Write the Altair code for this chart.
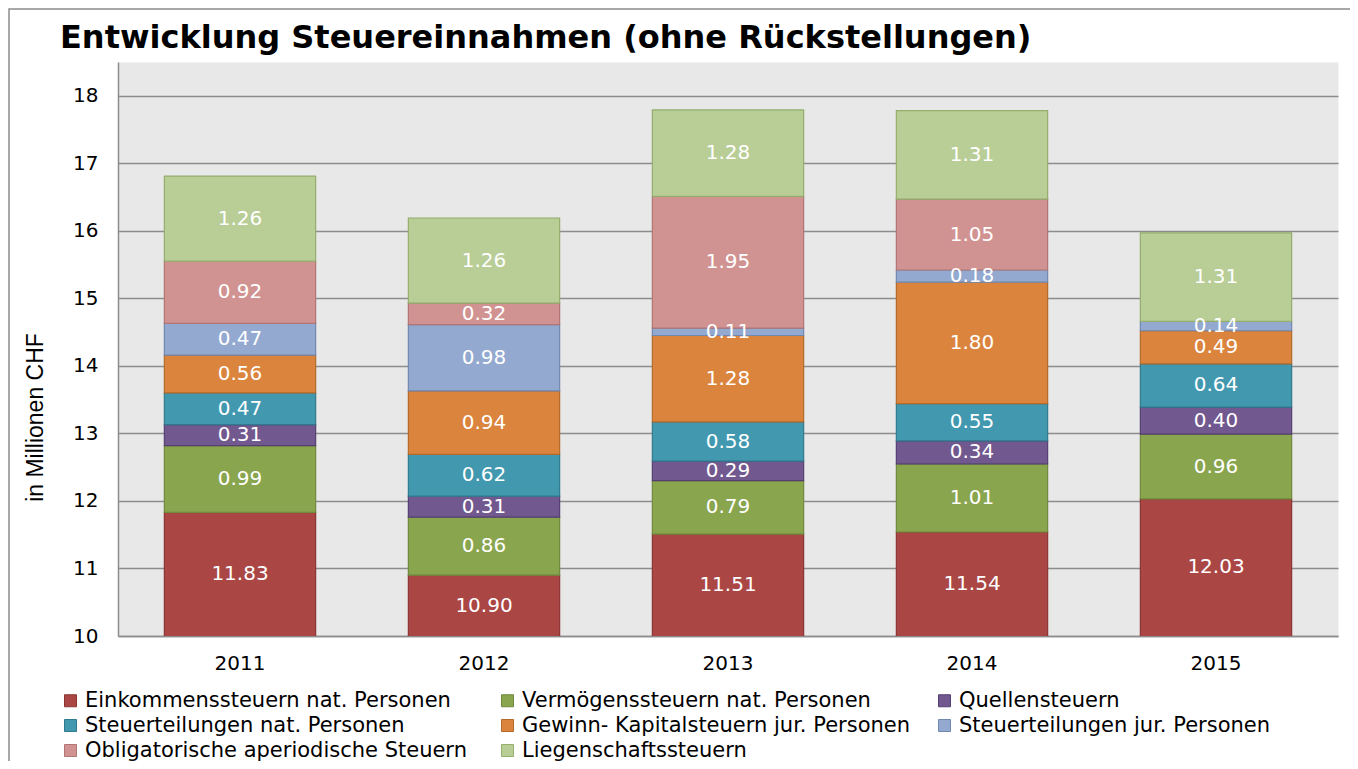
import altair as alt
import pandas as pd

years = ["2011", "2012", "2013", "2014", "2015"]
series = [
    "Einkommenssteuern nat. Personen",
    "Vermögenssteuern nat. Personen",
    "Quellensteuern",
    "Steuerteilungen nat. Personen",
    "Gewinn- Kapitalsteuern jur. Personen",
    "Steuerteilungen jur. Personen",
    "Obligatorische aperiodische Steuern",
    "Liegenschaftssteuern",
]
einkommen = [11.83, 10.90, 11.51, 11.54, 12.03]
vermoegen = [0.99, 0.86, 0.79, 1.01, 0.96]
quellen = [0.31, 0.31, 0.29, 0.34, 0.40]
st_nat = [0.47, 0.62, 0.58, 0.55, 0.64]
gewinn = [0.56, 0.94, 1.28, 1.80, 0.49]
st_jur = [0.47, 0.98, 0.11, 0.18, 0.14]
oblig = [0.92, 0.32, 1.95, 1.05, 0.0]
liegen = [1.26, 1.26, 1.28, 1.31, 1.31]

fills = ["#AA4644", "#89A54E", "#71588F", "#4198AF", "#DB843D", "#93A9CF", "#D19392", "#B9CD96"]
strokes = ["#8B3533", "#6F8A3C", "#553F72", "#2F7A8E", "#B56A2A", "#7088B0", "#B07675", "#94AE6C"]

# legend flows column by column: reorder so rows read like the reference
legend_order = [0, 3, 6, 1, 4, 7, 2, 5]
leg_domain = [series[i] for i in legend_order]
leg_fills = [fills[i] for i in legend_order]
leg_strokes = [strokes[i] for i in legend_order]

values = [einkommen, vermoegen, quellen, st_nat, gewinn, st_jur, oblig, liegen]
rows = []
for si, (name, vals) in enumerate(zip(series, values)):
    for yi, y in enumerate(years):
        rows.append({"year": y, "series": name, "order": si, "value": vals[yi]})
df = pd.DataFrame(rows)
df = df[df["value"] > 0]

base = alt.Chart(df).transform_stack(
    stack="value", groupby=["year"], as_=["y0", "y1"],
    sort=[alt.SortField("order", order="ascending")]
).transform_calculate(
    ymid="(max(datum.y0, 10) + datum.y1) / 2",
    label="format(datum.value, '.2f')"
)

yscale = alt.Scale(domain=[10, 18.5], nice=False, zero=False)
xenc = alt.X("year:N", title=None,
             scale=alt.Scale(paddingInner=0.38, paddingOuter=0.19),
             axis=alt.Axis(labelAngle=0, labelFontSize=20, labelPadding=17, ticks=False,
                           labelFont="DejaVu Sans", labelColor="#000000",
                           domainColor="#8C8C8C", domainWidth=1.5, grid=False))

bars = base.mark_bar(clip=True, strokeWidth=1.2).encode(
    x=xenc,
    y=alt.Y("y1:Q", scale=yscale, title="in Millionen CHF",
            axis=alt.Axis(values=list(range(10, 19)), format="d", labelFontSize=20,
                          labelPadding=20, ticks=False, labelFont="DejaVu Sans",
                          labelColor="#000000",
                          domainColor="#8C8C8C", domainWidth=1.5,
                          grid=True, gridColor="#8C8C8C", gridWidth=1.5,
                          titleFont="Liberation Sans", titleFontSize=23,
                          titleFontWeight="normal", titleColor="#000000",
                          titleX=-83, titleY=355, titleAngle=-90,
                          titleAlign="center", titleBaseline="middle")),
    y2="y0:Q",
    fill=alt.Fill("series:N", scale=alt.Scale(domain=leg_domain, range=leg_fills),
                  legend=alt.Legend(title=None, orient="none", legendX=-58, legendY=628,
                                    columns=3, columnPadding=23, rowPadding=3,
                                    gridAlign="all",
                                    symbolType="square", symbolSize=144,
                                    symbolStrokeColor="#666666", symbolStrokeWidth=1,
                                    labelFontSize=21, labelFont="DejaVu Sans",
                                    labelColor="#000000", labelOffset=4, labelLimit=500,
                                    padding=0)),
    stroke=alt.Stroke("series:N", scale=alt.Scale(domain=leg_domain, range=leg_strokes),
                      legend=None),
)

text = base.mark_text(color="white", fontSize=20, font="DejaVu Sans", baseline="middle").encode(
    x=alt.X("year:N"),
    y=alt.Y("ymid:Q", scale=yscale),
    text="label:N",
)

frame = alt.Chart(pd.DataFrame({"a": [0]})).mark_rect(
    fill="transparent", stroke="#8C8C8C", strokeWidth=1.5, clip=False
).encode(x=alt.value(-109), x2=alt.value(1260), y=alt.value(-53), y2=alt.value(720))

chart = alt.layer(bars, text, frame).properties(
    width=1220, height=574,
    title=alt.TitleParams("Entwicklung Steuereinnahmen (ohne Rückstellungen)",
                          anchor="start", frame="group", dx=-58, dy=72, fontSize=32,
                          font="DejaVu Sans", fontWeight="bold", color="#000000",
                          baseline="alphabetic", offset=0),
    autosize=alt.AutoSizeParams(type="none"),
    padding={"left": 110, "top": 54, "right": 12, "bottom": 125},
).configure_view(fill="#E8E8E8", stroke="transparent")

chart.save("out.html", embed_options={"renderer": "svg", "actions": False})
